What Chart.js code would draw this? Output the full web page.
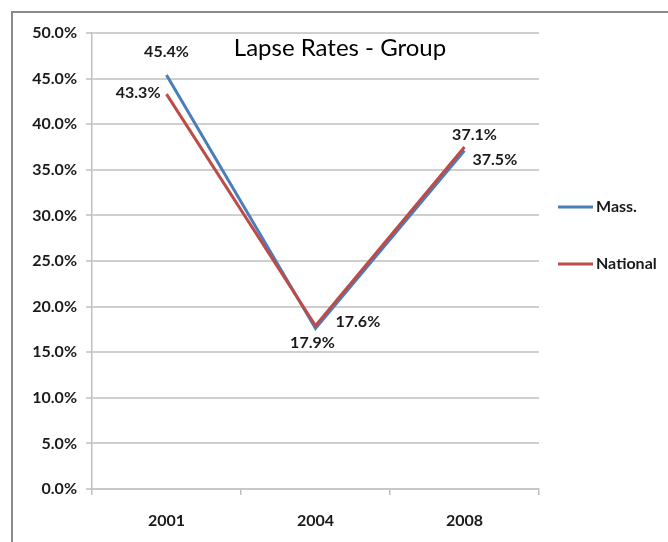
<!DOCTYPE html>
<html>
<head>
<meta charset="utf-8">
<script src="https://cdn.jsdelivr.net/npm/chart.js@4"></script>
<style>
  html, body { margin: 0; padding: 0; background: #fff; }
  #wrap { width: 668px; height: 542px; }
</style>
</head>
<body>
<div id="wrap"><canvas id="lapseChart" width="668" height="542"></canvas></div>
<script>
/* ---------- data ---------- */
const years = ["2001", "2004", "2008"];
const massRates = [45.4, 17.6, 37.1];
const nationalRates = [43.3, 17.9, 37.5];
const seriesNames = ["Mass.", "National"];
const yMin = 0, yMax = 50, yStep = 5;

/* where each value label sits relative to its point */
const labelPlacement = [
  [{ dx: 0, dy: -23, align: "center" }, { dx: 20, dy: -7, align: "left" }, { dx: 10, dy: -16, align: "center" }],
  [{ dx: -6, dy: -1, align: "right" }, { dx: -3, dy: 17, align: "center" }, { dx: 8, dy: 13, align: "left" }]
];

const FONT = "Lato, 'Open Sans', sans-serif";
const BLUE = "#4a7ebb";
const RED = "#be4b48";

/* ---------- frame, title, legend, value labels ---------- */
const decorations = {
  id: "decorations",
  beforeDraw(chart) {
    const ctx = chart.ctx;
    ctx.save();
    ctx.strokeStyle = "#8a8a8a";
    ctx.lineWidth = 2;
    ctx.strokeRect(12, 12, 700, 600);
    ctx.restore();
  },
  afterDatasetsDraw(chart) {
    const ctx = chart.ctx;
    ctx.save();
    ctx.font = "bold 16px " + FONT;
    ctx.fillStyle = "#1a1a1a";
    ctx.textBaseline = "middle";
    chart.data.datasets.forEach((ds, i) => {
      const meta = chart.getDatasetMeta(i);
      meta.data.forEach((pt, j) => {
        const p = labelPlacement[i][j];
        ctx.textAlign = p.align;
        ctx.fillText(ds.data[j].toFixed(1) + "%", pt.x + p.dx, pt.y + p.dy);
      });
    });
    ctx.restore();
  },
  afterDraw(chart) {
    const ctx = chart.ctx;
    ctx.save();
    // title sits inside the plot, Excel style
    ctx.font = "24px " + FONT;
    ctx.fillStyle = "#000";
    ctx.textAlign = "center";
    ctx.textBaseline = "middle";
    ctx.fillText("Lapse Rates - Group", 340, 48);

    // legend
    ctx.font = "bold 16px " + FONT;
    ctx.textAlign = "left";
    chart.data.datasets.forEach((ds, i) => {
      const y = 207 + i * 57;
      ctx.strokeStyle = ds.borderColor;
      ctx.lineWidth = 3;
      ctx.beginPath();
      ctx.moveTo(558, y);
      ctx.lineTo(593, y);
      ctx.stroke();
      ctx.fillStyle = "#1a1a1a";
      ctx.fillText(ds.label, 596, y);
    });
    ctx.restore();
  }
};

/* ---------- chart ---------- */
new Chart(document.getElementById("lapseChart"), {
  type: "line",
  data: {
    labels: years,
    datasets: [
      {
        label: seriesNames[0],
        data: massRates,
        borderColor: BLUE,
        backgroundColor: BLUE,
        borderWidth: 3,
        pointRadius: 0,
        tension: 0,
        order: 2
      },
      {
        label: seriesNames[1],
        data: nationalRates,
        borderColor: RED,
        backgroundColor: RED,
        borderWidth: 3,
        pointRadius: 0,
        tension: 0,
        order: 1
      }
    ]
  },
  options: {
    responsive: false,
    animation: false,
    layout: { padding: { top: 33, right: 129, bottom: 0, left: 0 } },
    plugins: {
      legend: { display: false },
      title: { display: false },
      tooltip: { enabled: false }
    },
    scales: {
      x: {
        offset: true,
        grid: {
          offset: true,
          drawOnChartArea: false,
          drawTicks: true,
          tickLength: 6,
          color: "#bfbfbf",
          lineWidth: 1.5
        },
        border: { color: "#c8c8c8", width: 2 },
        ticks: {
          padding: 16,
          color: "#1a1a1a",
          font: { family: FONT, size: 16, weight: "bold" }
        },
        afterFit(scale) { scale.height = 53; }
      },
      y: {
        min: yMin,
        max: yMax,
        grid: {
          color: "#cfcfcf",
          lineWidth: 2,
          tickLength: 6
        },
        border: { color: "#bfbfbf", width: 1.5 },
        ticks: {
          stepSize: yStep,
          padding: 9,
          color: "#1a1a1a",
          font: { family: FONT, size: 16, weight: "bold" },
          callback: v => v.toFixed(1) + "%"
        },
        afterFit(scale) { scale.width = 92; }
      }
    }
  },
  plugins: [decorations]
});
</script>
</body>
</html>
